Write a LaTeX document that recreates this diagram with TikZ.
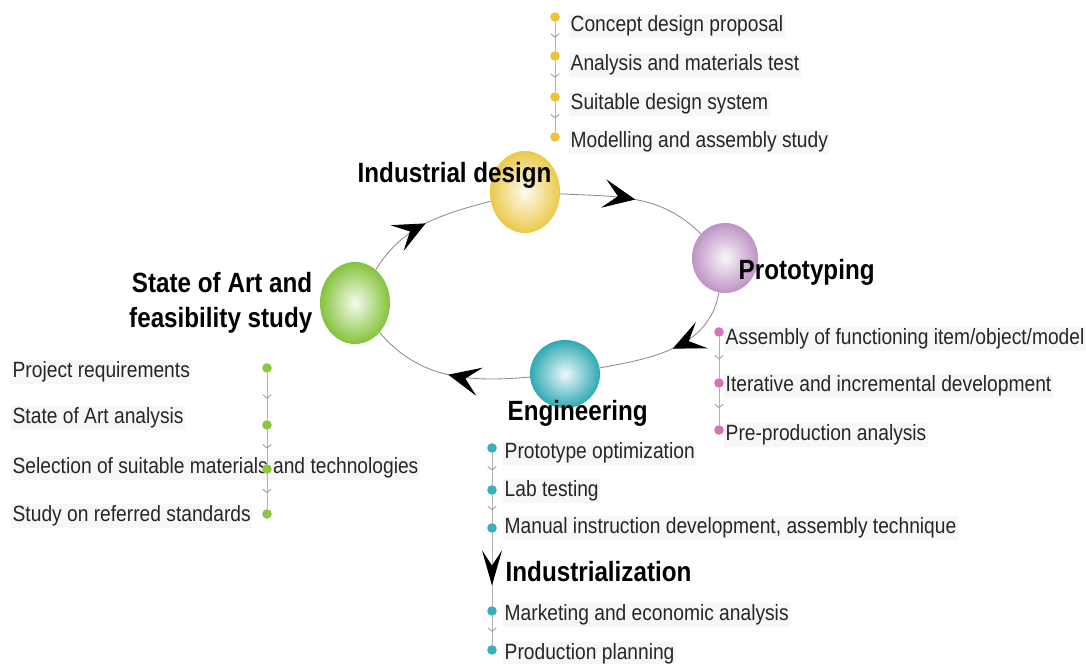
\documentclass[tikz,border=0pt]{standalone}
\usepackage{fontspec}
\newfontfamily\diagfont[FakeStretch=0.87]{Liberation Sans}
\usetikzlibrary{shapes.geometric,arrows.meta,positioning,decorations.markings}

\definecolor{sgreen}{HTML}{84C33A}
\definecolor{syellow}{HTML}{EBC94A}
\definecolor{spurple}{HTML}{BE93C5}
\definecolor{steal}{HTML}{2EA9B4}
\definecolor{dgreen}{HTML}{8DC641}
\definecolor{dyellow}{HTML}{EEC23A}
\definecolor{dpink}{HTML}{D573B6}
\definecolor{dteal}{HTML}{3AAEBD}

\begin{document}
\begin{tikzpicture}[x=0.025cm, y=0.025cm,
  sphere/.style={ellipse, inner sep=0pt, inner color=#1!8!white, outer color=#1},
  head/.style={font=\diagfont\fontsize{19.8}{24.8}\selectfont\bfseries, inner sep=1pt},
  item/.style={font=\diagfont\fontsize{15.7}{19}\selectfont, text=black!85, fill=black!3, inner sep=1pt, anchor=west},
  dot/.style={circle, fill=#1, inner sep=0pt, minimum size=0.24cm},
  loopline/.style={draw=black!45, line width=0.6pt, postaction={decorate},
    decoration={markings, mark=at position 0.5 with {\arrow{Stealth[length=0.8cm,width=0.72cm,inset=0.36cm,color=black]}}}},
  stem/.style={draw=black!30, line width=0.7pt, postaction={decorate},
    decoration={markings, mark=at position 0.55 with {\arrow{Straight Barb[length=2.5pt,width=6pt,color=black!35]}}}},
  bigtip/.style={draw=black!30, line width=0.7pt, postaction={decorate},
    decoration={markings, mark=at position 0.72 with {\arrow{Stealth[length=0.88cm,width=0.5cm,inset=0.38cm,color=black]}}}},
]
 \useasboundingbox (0,0) rectangle (1086,664);

 % spheres
 \node[sphere=sgreen, minimum width=1.75cm, minimum height=2.05cm] (G) at (355,361) {};
 \node[sphere=syellow, minimum width=1.75cm, minimum height=2.05cm] (Y) at (525,472) {};
 \node[sphere=spurple, minimum width=1.65cm, minimum height=1.75cm] (P) at (725,406) {};
 \node[sphere=steal, minimum width=1.75cm, minimum height=1.70cm] (T) at (565,290) {};

 % cycle
 \draw[loopline] (G) to[out=58, in=195] (Y);
 \draw[loopline] (Y) to[out=-3, in=135] (P);
 \draw[loopline] (P) to[out=-100, in=10] (T);
 \draw[loopline] (T) to[out=185, in=-50] (G);

 % phase titles
 \node[head, anchor=west] (hY) at (356,489) {Industrial design};
 \node[head, anchor=west] (hP) at (737,392) {Prototyping};
 \node[head, anchor=west] (hT) at (506,251) {Engineering};
 \node[head, anchor=east, align=right] (hG) at (314,361) {State of Art and\\feasibility study};
 \node[head, anchor=west] (hI) at (504,92) {Industrialization};

 % items
 \node[item] (yt1) at (569,638) {Concept design proposal};
 \node[item] (yt2) at (569,599) {Analysis and materials test};
 \node[item] (yt3) at (569,560) {Suitable design system};
 \node[item] (yt4) at (569,522) {Modelling and assembly study};

 \node[item] (pt1) at (724,325) {Assembly of functioning item/object/model};
 \node[item] (pt2) at (724,278) {Iterative and incremental development};
 \node[item] (pt3) at (724,229) {Pre-production analysis};

 \node[item] (tt1) at (503,211) {Prototype optimization};
 \node[item] (tt2) at (503,173) {Lab testing};
 \node[item] (tt3) at (503,136) {Manual instruction development, assembly technique};
 \node[item] (tt4) at (503,49) {Marketing and economic analysis};
 \node[item] (tt5) at (503,10) {Production planning};

 \node[item] (gt1) at (11,292) {Project requirements};
 \node[item] (gt2) at (11,246) {State of Art analysis};
 \node[item] (gt3) at (11,196) {Selection of suitable materials and technologies};
 \node[item] (gt4) at (11,148) {Study on referred standards};

 % dots
 \foreach \y [count=\i] in {647,608,567,527} \node[dot=dyellow] (yd\i) at (555,\y) {};
 \foreach \y [count=\i] in {332,281,234} \node[dot=dpink] (pd\i) at (719,\y) {};
 \foreach \y [count=\i] in {216,174,136,53,14} \node[dot=dteal] (td\i) at (492,\y) {};
 \foreach \y [count=\i] in {296,239,195,150} \node[dot=dgreen] (gd\i) at (267,\y) {};

 % stems
 \foreach \a/\b in {yd1/yd2,yd2/yd3,yd3/yd4,pd1/pd2,pd2/pd3,td1/td2,td2/td3,td4/td5,gd1/gd2,gd2/gd3,gd3/gd4} {
  \draw[stem] (\a) -- (\b);
 };
 \draw[bigtip] (td3) -- (td4);
\end{tikzpicture}
\end{document}
